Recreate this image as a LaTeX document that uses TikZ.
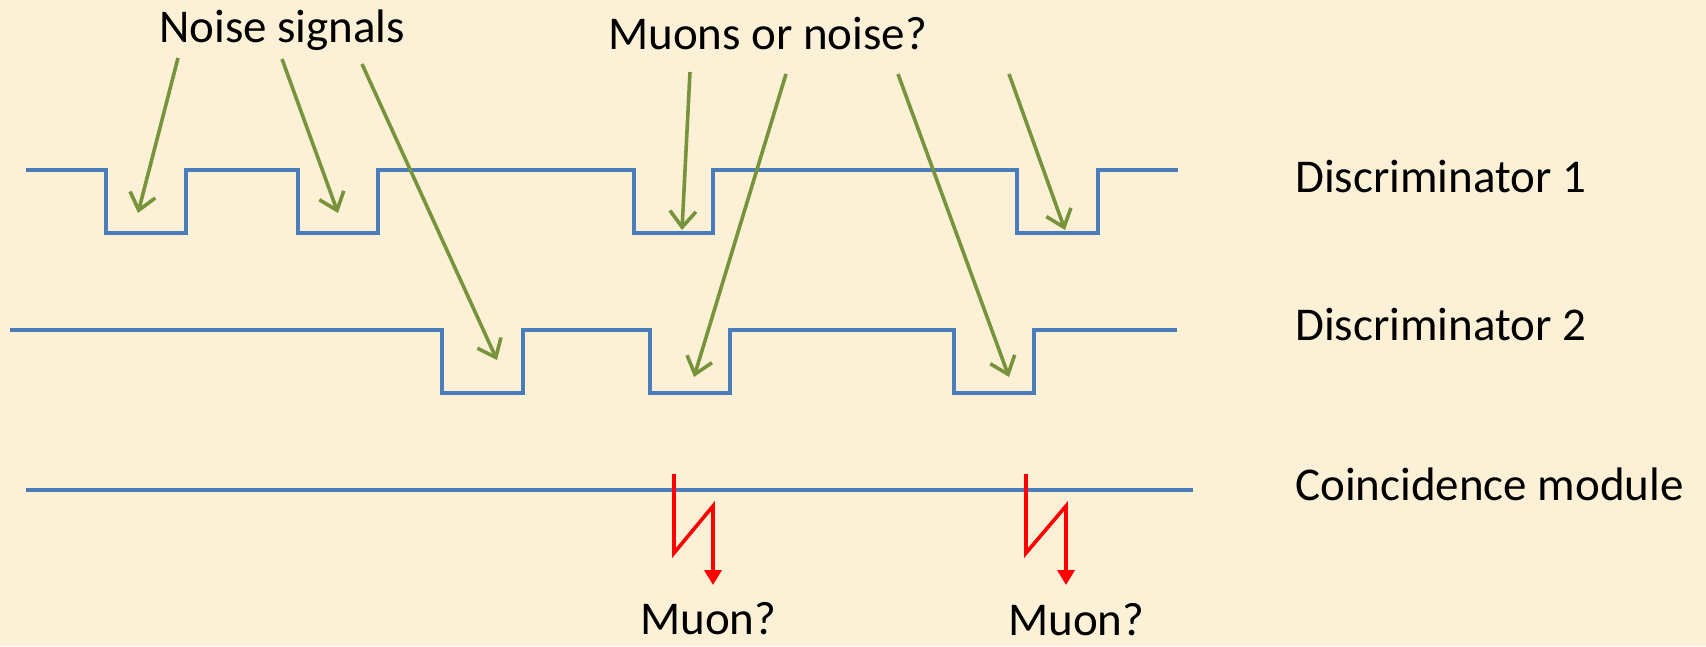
\documentclass[tikz,border=0pt]{standalone}
\usepackage{fontspec}
\setmainfont{Carlito}
\usepackage{tikz}
\usetikzlibrary{arrows.meta, positioning}
\usepackage{xcolor}

\definecolor{paper}{RGB}{252,241,214}
\definecolor{waveblue}{RGB}{74,126,187}
\definecolor{pointgreen}{RGB}{119,147,60}
\definecolor{hitred}{RGB}{255,0,0}

\begin{document}
\begin{tikzpicture}[
    x=1pt, y=-1pt,
    label/.style = {anchor=base west, inner sep=0pt, font=\fontsize{47}{56}\selectfont},
    wave/.style = {draw=waveblue, line width=3.6pt, line join=miter},
    pointer/.style = {draw=pointgreen, line width=3.6pt, -{Straight Barb[length=16pt, width=26pt]}},
    hit/.style = {draw=hitred, line width=3.6pt, line join=miter, -{Triangle[length=15pt, width=17pt]}}
]

% Background
\fill [paper] (0,0) rectangle (1706,646);
\useasboundingbox (0,0) rectangle (1706,646);

% Labels
\node (lbl_noise) [label, at={(159, 42)}] {Noise signals};
\node (lbl_doubt) [label, at={(608, 49)}] {Muons or noise?};
\node (lbl_disc1) [label, at={(1295, 192)}] {Discriminator 1};
\node (lbl_disc2) [label, at={(1295, 340)}] {Discriminator 2};
\node (lbl_coinc) [label, at={(1295, 500)}] {Coincidence module};
\node (lbl_muon1) [label, at={(640, 634)}] {Muon?};
\node (lbl_muon2) [label, at={(1008, 635)}] {Muon?};

% Discriminator 1 pulses
\draw [wave] (26,170) -- (106,170) -- (106,233) -- (186,233) -- (186,170)
    -- (298,170) -- (298,233) -- (378,233) -- (378,170)
    -- (634,170) -- (634,233) -- (713,233) -- (713,170)
    -- (1017,170) -- (1017,233) -- (1098,233) -- (1098,170) -- (1178,170);

% Discriminator 2 pulses
\draw [wave] (10,330) -- (442,330) -- (442,393) -- (523,393) -- (523,330)
    -- (650,330) -- (650,393) -- (730,393) -- (730,330)
    -- (954,330) -- (954,393) -- (1034,393) -- (1034,330) -- (1177,330);

% Coincidence module output
\draw [wave] (26,490) -- (1193,490);

% Pointer ends
\coordinate (n1_tail) at (178,58);   \coordinate (n1_tip) at (138,213);
\coordinate (n2_tail) at (282,59);   \coordinate (n2_tip) at (338,213);
\coordinate (n3_tail) at (362,64);   \coordinate (n3_tip) at (497,360);
\coordinate (q1_tail) at (690,72);   \coordinate (q1_tip) at (682,230);
\coordinate (q2_tail) at (786,74);   \coordinate (q2_tip) at (694,377);
\coordinate (q3_tail) at (898,74);   \coordinate (q3_tip) at (1009,377);
\coordinate (q4_tail) at (1009,74);  \coordinate (q4_tip) at (1065,230);

% Noise pointers
\draw [pointer] (n1_tail) -- (n1_tip);
\draw [pointer] (n2_tail) -- (n2_tip);
\draw [pointer] (n3_tail) -- (n3_tip);

% Muon-or-noise pointers
\draw [pointer] (q1_tail) -- (q1_tip);
\draw [pointer] (q2_tail) -- (q2_tip);
\draw [pointer] (q3_tail) -- (q3_tip);
\draw [pointer] (q4_tail) -- (q4_tip);

% Coincidence hits
\coordinate (h1_top) at (674,474);  \coordinate (h1_low) at (674,553);
\coordinate (h1_bend) at (713,506); \coordinate (h1_tip) at (713,585);
\coordinate (h2_top) at (1026,474); \coordinate (h2_low) at (1026,553);
\coordinate (h2_bend) at (1066,506); \coordinate (h2_tip) at (1066,585);

\draw [hit] (h1_top) -- (h1_low) -- (h1_bend) -- (h1_tip);
\draw [hit] (h2_top) -- (h2_low) -- (h2_bend) -- (h2_tip);

\end{tikzpicture}
\end{document}
